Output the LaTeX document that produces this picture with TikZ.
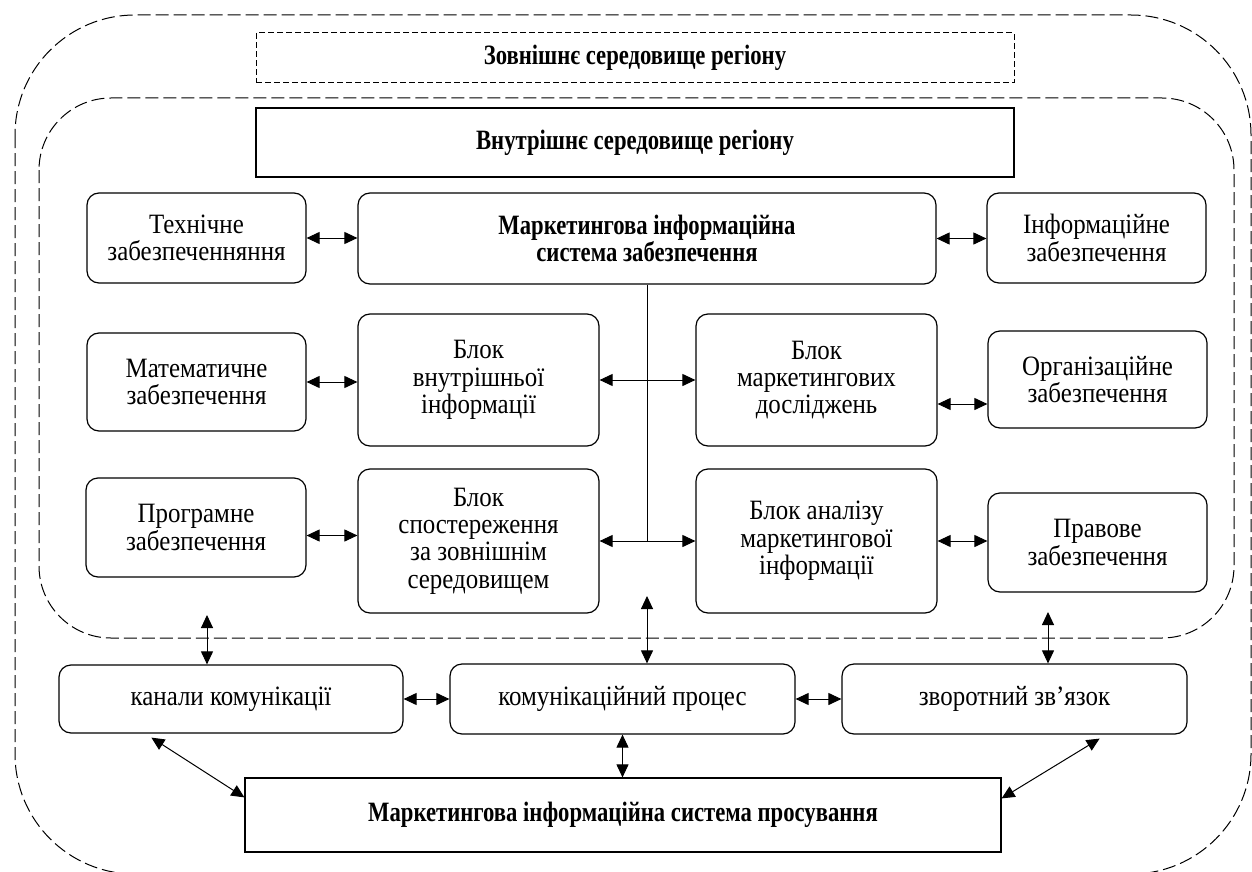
\documentclass[tikz,border=0pt]{standalone}
\usepackage{fontspec}
\setmainfont{Liberation Serif}[FakeStretch=0.89, BoldFeatures={FakeStretch=0.81}]
\usetikzlibrary{arrows.meta}

\begin{document}
\begin{tikzpicture}[x=0.5pt, y=-0.5pt, font=\fontsize{14}{13.7}\selectfont,
	blk/.style={draw, line width=0.6pt, rounded corners=6pt, align=center},
	bar/.style={draw, line width=0.6pt, align=center},
	bold/.style={font=\fontsize{14}{13.7}\selectfont\bfseries},
	arr/.style={{Triangle[length=6.5pt,width=6pt]}-{Triangle[length=6.5pt,width=6pt]}, line width=0.5pt},
	env/.style={dash pattern=on 6.5pt off 2.5pt, line width=0.5pt}]
	\useasboundingbox (0,0) rectangle (1252,872);

	% environment frames
	\draw[env, rounded corners=60pt] (15,15) rectangle (1251,874);
	\draw[env, rounded corners=36pt] (39,98) rectangle (1234,638);
	\node[bar, bold, dash pattern=on 3pt off 1.5pt, line width=0.5pt, minimum width=379pt, minimum height=25pt] (ext) at (635,58) {Зовнішнє середовище регіону};
	\node[bar, bold, minimum width=379pt, minimum height=34.5pt] (intr) at (635,142.5) {Внутрішнє середовище регіону};

	% support and blocks
	\node[blk, minimum width=109.5pt, minimum height=45pt] (tech) at (196.5,238) {Технічне\\забезпеченняння};
	\node[blk, bold, minimum width=289pt, minimum height=45.5pt] (mis) at (647,238.5) {Маркетингова інформаційна\\система забезпечення};
	\node[blk, minimum width=109.5pt, minimum height=45pt] (info) at (1096.5,238) {Інформаційне\\забезпечення};

	\node[blk, minimum width=109.5pt, minimum height=49pt] (math) at (196.5,382) {Математичне\\забезпечення};
	\node[blk, minimum width=120.5pt, minimum height=66pt] (intinf) at (478.5,380) {Блок\\внутрішньої\\інформації};
	\node[blk, minimum width=120.5pt, minimum height=66pt] (mres) at (816.5,380) {Блок\\маркетингових\\досліджень};
	\node[blk, minimum width=109.5pt, minimum height=48.5pt] (org) at (1097.5,379.5) {Організаційне\\забезпечення};

	\node[blk, minimum width=110pt, minimum height=49.5pt] (prog) at (196,527.5) {Програмне\\забезпечення};
	\node[blk, minimum width=120.5pt, minimum height=72pt] (obs) at (478.5,541) {Блок\\спостереження\\за зовнішнім\\середовищем};
	\node[blk, minimum width=120.5pt, minimum height=72pt] (anl) at (816.5,541) {Блок аналізу\\маркетингової\\інформації};
	\node[blk, minimum width=109.5pt, minimum height=49.5pt] (law) at (1097.5,542.5) {Правове\\забезпечення};

	% communication
	\node[blk, minimum width=172pt, minimum height=34pt] (chan) at (231,699) {канали комунікації};
	\node[blk, minimum width=172.5pt, minimum height=35pt] (proc) at (622.5,699) {комунікаційний процес};
	\node[blk, minimum width=172.5pt, minimum height=35pt] (fb) at (1014.5,699) {зворотний зв’язок};
	\node[bar, bold, minimum width=378pt, minimum height=37pt] (prom) at (623,815) {Маркетингова інформаційна система просування};

	\coordinate (p3) at ([yshift=-4pt]prog.east);
	\coordinate (o2) at ([yshift=-12pt]mres.east);
	\coordinate (c1) at (207,615);
	\coordinate (c2) at (647,596);
	\coordinate (c3) at (1048,612);

	\draw[line width=0.5pt] (mis.south) -- (mis.south |- obs.east);
	\draw[arr] (tech.east) -- (tech.east -| mis.west);
	\draw[arr] (mis.east) -- (mis.east -| info.west);
	\draw[arr] (math.east) -- (math.east -| intinf.west);
	\draw[arr] (intinf.east) -- (intinf.east -| mres.west);
	\draw[arr] (o2) -- (o2 -| org.west);
	\draw[arr] (p3) -- (p3 -| obs.west);
	\draw[arr] (obs.east) -- (obs.east -| anl.west);
	\draw[arr] (anl.east) -- (anl.east -| law.west);

	\draw[arr] (c1) -- (c1 |- chan.north);
	\draw[arr] (c2) -- (c2 |- proc.north);
	\draw[arr] (c3) -- (c3 |- fb.north);
	\draw[arr] (chan.east) -- (proc.west);
	\draw[arr] (proc.east) -- (fb.west);
	\draw[arr] (proc.south) -- (proc.south |- prom.north);
	\draw[arr] ([xshift=46.5pt,yshift=-2pt]chan.south west) -- ([yshift=-10pt]prom.north west);
	\draw[arr] ([xshift=-44pt,yshift=-2pt]fb.south east) -- ([yshift=-10.5pt]prom.north east);
\end{tikzpicture}
\end{document}
